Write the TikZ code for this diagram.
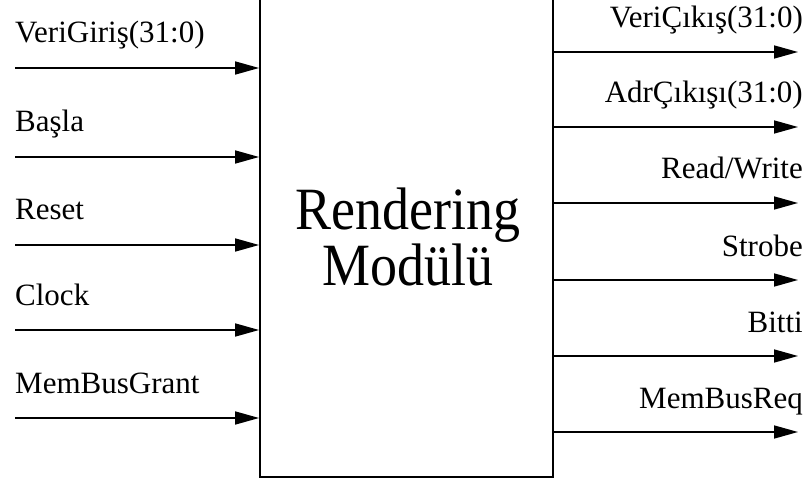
\documentclass[tikz,border=0pt]{standalone}
\usepackage{fontspec}
\setmainfont{Liberation Serif}
\usetikzlibrary{arrows.meta}
\begin{document}
\begin{tikzpicture}[x=1pt,y=-1pt,
  sig/.style={line width=1.6pt,-{Triangle[length=24pt,width=13pt]}},
  lbl/.style={inner sep=0pt,font=\fontsize{31}{36}\selectfont},
  ttl/.style={inner sep=0pt,align=center,xscale=0.9,font=\fontsize{60}{50}\selectfont},
  module/.style={draw,line width=1.8pt,minimum width=293pt,minimum height=490pt,inner sep=0pt}]
\useasboundingbox (0,0) rectangle (811,481);
\begin{scope}
\clip (0,0) rectangle (811,481);
\node[module] (mod) at (406.5,232) {};
\end{scope}
\node[ttl] (title) at (408,237) {Rendering\\Modülü};

% inputs
\foreach \name/\txt/\y in {vin/VeriGiriş(31:0)/68, start/Başla/157, rst/Reset/245, clk/Clock/330, grant/MemBusGrant/418}{
  \coordinate (\name-src) at (15,\y);
  \node[lbl,anchor=base west] (\name-lbl) at (15,\y-25) {\txt};
  \draw[sig] (\name-src) -- (mod.west |- \name-src);
}
% outputs
\foreach \name/\txt/\y in {vout/VeriÇıkış(31:0)/52, aout/AdrÇıkışı(31:0)/127, rw/{Read/Write}/203, stb/Strobe/280, done/Bitti/356, req/MemBusReq/432}{
  \coordinate (\name-dst) at (798,\y);
  \node[lbl,anchor=base east] (\name-lbl) at (803,\y-24) {\txt};
  \draw[sig] (mod.east |- \name-dst) -- (\name-dst);
}
\end{tikzpicture}
\end{document}
